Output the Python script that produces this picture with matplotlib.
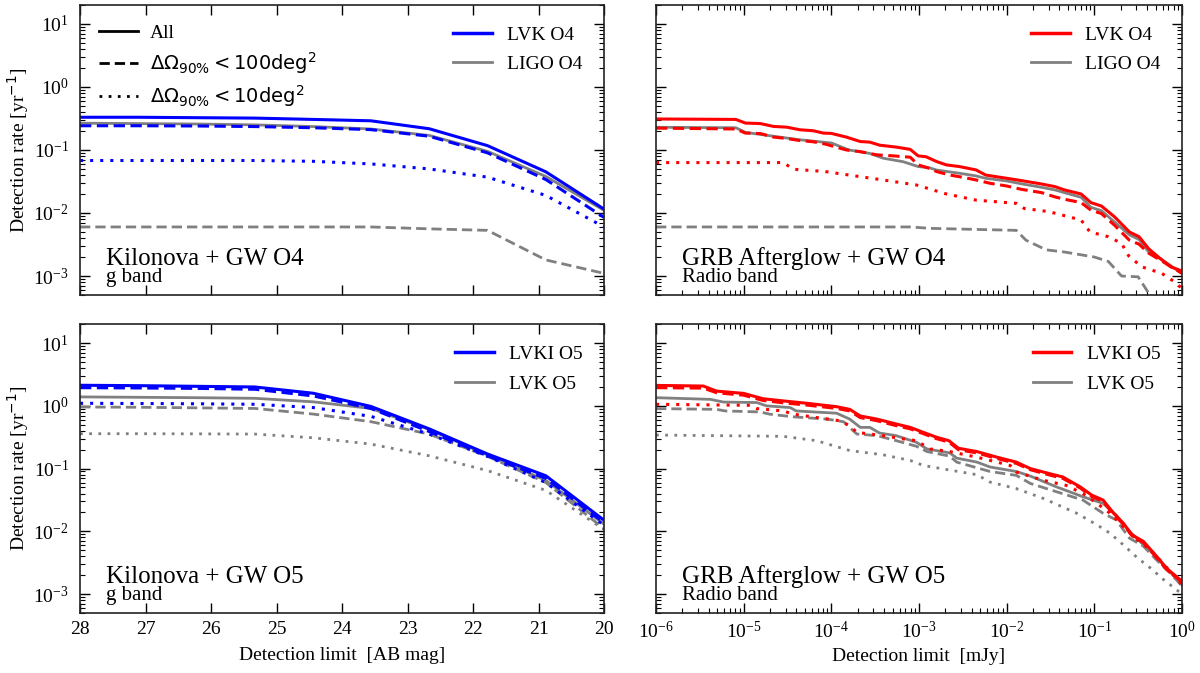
import numpy as np
import matplotlib
matplotlib.use("Agg")
import matplotlib.pyplot as plt
from matplotlib.lines import Line2D
from matplotlib.ticker import LogLocator, NullFormatter, FixedLocator

plt.rcParams["font.family"] = ["Liberation Serif", "DejaVu Serif"]
plt.rcParams["mathtext.fontset"] = "dejavusans"

# ---- kilonova panels: detection limit in AB mag ----
mag = [28.0, 27.11, 26.22, 25.33, 24.44, 23.56, 22.67, 21.78, 20.89, 20.0]

kn_o4_lvk_all = [0.33, 0.33, 0.325, 0.32, 0.305, 0.29, 0.217, 0.117, 0.045, 0.0115]
kn_o4_lvk_100 = [0.242, 0.242, 0.24, 0.235, 0.225, 0.21, 0.165, 0.09, 0.034, 0.0085]
kn_o4_lvk_10 = [0.068, 0.068, 0.068, 0.068, 0.066, 0.06, 0.05, 0.037, 0.019, 0.006]
kn_o4_ligo_all = [0.266, 0.262, 0.258, 0.25, 0.235, 0.215, 0.17, 0.095, 0.038, 0.011]
kn_o4_ligo_100 = [0.006, 0.006, 0.006, 0.006, 0.006, 0.006, 0.0056, 0.0053, 0.0018, 0.0011]

kn_o5_lvki_all = [2.13, 2.1, 2.05, 2.0, 1.59, 0.98, 0.43, 0.171, 0.077, 0.015]
kn_o5_lvki_100 = [1.95, 1.93, 1.9, 1.84, 1.44, 0.91, 0.39, 0.16, 0.07, 0.0137]
kn_o5_lvki_10 = [1.10, 1.09, 1.08, 1.06, 0.94, 0.68, 0.355, 0.157, 0.06, 0.0125]
kn_o5_lvk_all = [1.39, 1.37, 1.35, 1.32, 1.16, 0.91, 0.42, 0.165, 0.065, 0.013]
kn_o5_lvk_100 = [0.96, 0.95, 0.93, 0.91, 0.74, 0.56, 0.355, 0.157, 0.06, 0.011]
kn_o5_lvk_10 = [0.36, 0.36, 0.358, 0.355, 0.31, 0.246, 0.16, 0.093, 0.045, 0.0107]

# ---- GRB afterglow panels: detection limit in mJy (log10 values) ----
ag_o4_lvk_all_lx = [-6, -5.09, -4.98, -4.81, -4.66, -4.51, -4.36, -4.21, -4.09, -4.0,
                    -3.83, -3.67, -3.56, -3.45, -3.26, -3.10, -3.01, -2.92, -2.80, -2.69,
                    -2.54, -2.35, -2.24, -2.0, -1.83, -1.60, -1.45, -1.34, -1.15, -1.04,
                    -0.92, -0.77, -0.60, -0.49, -0.38, -0.25, -0.13, 0.0]
ag_o4_lvk_all = [0.31, 0.305, 0.267, 0.262, 0.236, 0.23, 0.209, 0.202, 0.185, 0.183,
                 0.160, 0.136, 0.133, 0.119, 0.111, 0.102, 0.0805, 0.078, 0.0655, 0.058,
                 0.0545, 0.0482, 0.040, 0.0355, 0.0326, 0.0288, 0.0262, 0.0232, 0.020, 0.0146,
                 0.0129, 0.0087, 0.005, 0.0042, 0.0027, 0.0019, 0.0014, 0.0012]

ag_o4_lvk_100_lx = [-6, -5.09, -4.98, -4.81, -4.66, -4.51, -4.36, -4.21, -4.07, -3.83,
                    -3.67, -3.48, -3.29, -3.10, -3.01, -2.88, -2.80, -2.65, -2.50, -2.35,
                    -2.19, -2.0, -1.83, -1.60, -1.45, -1.34, -1.15, -1.04, -0.92, -0.77,
                    -0.60, -0.49, -0.38, -0.25, 0.0]
ag_o4_lvk_100 = [0.222, 0.215, 0.185, 0.182, 0.160, 0.152, 0.141, 0.135, 0.124, 0.100,
                 0.094, 0.0835, 0.0805, 0.0767, 0.058, 0.051, 0.0454, 0.040, 0.0368, 0.0334,
                 0.0296, 0.0268, 0.0237, 0.021, 0.018, 0.0165, 0.0146, 0.0111, 0.0098, 0.0064,
                 0.0037, 0.0032, 0.0023, 0.0018, 0.0011]

ag_o4_lvk_10_lx = [-6, -4.55, -4.43, -4.07, -3.80, -3.41, -3.03, -2.84, -2.72, -2.35,
                   -1.89, -1.80, -1.52, -1.29, -1.15, -1.05, -0.84, -0.69, -0.61, -0.46,
                   -0.23, -0.08, 0.0]
ag_o4_lvk_10 = [0.063, 0.063, 0.0494, 0.0454, 0.040, 0.0334, 0.0278, 0.0232, 0.0205, 0.016,
                0.0142, 0.0118, 0.0105, 0.0087, 0.0077, 0.005, 0.0042, 0.0033, 0.0021, 0.0014,
                0.0011, 0.0008, 0.00063]

ag_o4_ligo_all_lx = [-6, -5.09, -4.98, -4.66, -4.36, -4.0, -3.80, -3.56, -3.41, -3.18,
                     -3.01, -2.88, -2.80, -2.54, -2.35, -2.24, -2.0, -1.83, -1.60, -1.45,
                     -1.34, -1.15, -1.04, -0.92, -0.77, -0.60, -0.49, -0.38, -0.25, 0.0]
ag_o4_ligo_all = [0.229, 0.225, 0.19, 0.165, 0.145, 0.129, 0.10, 0.088, 0.074, 0.065,
                  0.0545, 0.052, 0.048, 0.0427, 0.0387, 0.0355, 0.0322, 0.029, 0.0255, 0.0232,
                  0.021, 0.0177, 0.0123, 0.0109, 0.0072, 0.0045, 0.0038, 0.0024, 0.0019, 0.0011]

ag_o4_ligo_100_lx = [-6, -3.10, -2.87, -1.89, -1.78, -1.55, -1.34, -1.0, -0.84, -0.69,
                     -0.50, -0.39, -0.30]
ag_o4_ligo_100 = [0.006, 0.006, 0.0057, 0.0053, 0.0037, 0.0026, 0.0024, 0.002, 0.0017, 0.001,
                  0.00097, 0.00056, 0.0003]

ag_o5_lvki_lx = [-6, -5.46, -5.31, -5.0, -4.78, -4.55, -4.28, -3.94, -3.79, -3.67,
                 -3.48, -3.25, -3.1, -2.95, -2.8, -2.66, -2.55, -2.34, -2.11, -1.89,
                 -1.73, -1.51, -1.36, -1.16, -1.03, -0.9, -0.78, -0.67, -0.57, -0.44,
                 -0.31, -0.18, 0.0]
ag_o5_lvki_all = [2.12, 2.07, 1.72, 1.58, 1.30, 1.20, 1.10, 0.97, 0.88, 0.69,
                  0.615, 0.51, 0.454, 0.378, 0.316, 0.279, 0.211, 0.187, 0.152, 0.127,
                  0.10, 0.083, 0.0736, 0.051, 0.0378, 0.0315, 0.0194, 0.0135, 0.0088, 0.0069,
                  0.0043, 0.0026, 0.0016]
ag_o5_lvki_100 = [1.95, 1.92, 1.62, 1.48, 1.22, 1.12, 1.03, 0.91, 0.83, 0.65,
                  0.58, 0.48, 0.43, 0.36, 0.30, 0.265, 0.20, 0.178, 0.145, 0.121,
                  0.096, 0.079, 0.070, 0.049, 0.036, 0.030, 0.0186, 0.013, 0.0085, 0.0066,
                  0.0041, 0.0025, 0.00155]

ag_o5_lvki_10_lx = [-6, -4.92, -4.85, -4.55, -4.43, -4.17, -3.90, -3.79, -3.71, -3.41,
                    -3.18, -3.03, -2.875, -2.65, -2.34, -2.11, -1.96, -1.89, -1.58, -1.32,
                    -1.13, -0.97, -0.82, -0.67, -0.51, -0.36, -0.21, 0.0]
ag_o5_lvki_10 = [1.06, 1.02, 0.906, 0.83, 0.736, 0.653, 0.578, 0.482, 0.378, 0.335,
                 0.297, 0.279, 0.206, 0.187, 0.152, 0.127, 0.112, 0.088, 0.065, 0.054,
                 0.040, 0.0279, 0.0194, 0.0119, 0.0073, 0.0051, 0.003, 0.0014]

ag_o5_lvk_all_lx = [-6, -5.38, -5.23, -4.85, -4.74, -4.47, -4.40, -3.94, -3.79, -3.67,
                    -3.56, -3.45, -3.26, -3.03, -2.91, -2.65, -2.57, -2.34, -2.19, -1.89,
                    -1.73, -1.43, -1.13, -0.90, -0.75, -0.60, -0.44, -0.29, -0.14, 0.0]
ag_o5_lvk_all = [1.35, 1.27, 1.15, 1.13, 1.0, 0.94, 0.83, 0.764, 0.615, 0.454,
                 0.454, 0.369, 0.335, 0.263, 0.206, 0.178, 0.147, 0.127, 0.106, 0.090,
                 0.076, 0.051, 0.0356, 0.0279, 0.0182, 0.010, 0.0061, 0.004, 0.0023, 0.0014]

ag_o5_lvk_100_lx = [-6, -5.31, -5.21, -4.81, -4.70, -4.43, -4.05, -3.86, -3.71, -3.48,
                    -3.26, -3.03, -2.91, -2.65, -2.57, -2.19, -1.89, -1.73, -1.43, -1.13,
                    -0.90, -0.75, -0.60, -0.44, -0.29, -0.14, 0.0]
ag_o5_lvk_100 = [0.905, 0.88, 0.83, 0.80, 0.736, 0.668, 0.615, 0.558, 0.356, 0.335,
                 0.279, 0.227, 0.187, 0.158, 0.127, 0.090, 0.078, 0.058, 0.0427, 0.0315,
                 0.0194, 0.0152, 0.0078, 0.0058, 0.0035, 0.0022, 0.00135]

ag_o5_lvk_10_lx = [-6, -4.55, -4.17, -3.79, -3.41, -3.10, -2.95, -2.34, -2.19, -1.89,
                   -1.58, -1.20, -0.97, -0.82, -0.67, -0.51, -0.36, -0.21, 0.0]
ag_o5_lvk_10 = [0.343, 0.327, 0.279, 0.194, 0.166, 0.135, 0.112, 0.080, 0.061, 0.048,
                0.0334, 0.0194, 0.0127, 0.0093, 0.0061, 0.0038, 0.0026, 0.0017, 0.001]

BLUE = "#0000ff"
RED = "#ff0000"
GREY = "#808080"
DOT = (0, (1, 2.3))
DASH = (0, (3.7, 1.8))

fig = plt.figure(figsize=(12, 6.73), dpi=100)
ax_tl = fig.add_axes([0.0667, 0.5617, 0.4367, 0.431])
ax_tr = fig.add_axes([0.5467, 0.5617, 0.4383, 0.431])
ax_bl = fig.add_axes([0.0667, 0.0892, 0.4367, 0.429])
ax_br = fig.add_axes([0.5467, 0.0892, 0.4383, 0.429])


def lx(vals):
    return 10.0 ** np.array(vals)


# grey first, colours on top
ax_tl.plot(mag, kn_o4_ligo_all, color=GREY, lw=2.0, ls="-")
ax_tl.plot(mag, kn_o4_ligo_100, color=GREY, lw=2.0, ls=DASH)
ax_tl.plot(mag, kn_o4_lvk_all, color=BLUE, lw=2.2, ls="-")
ax_tl.plot(mag, kn_o4_lvk_100, color=BLUE, lw=2.2, ls=DASH)
ax_tl.plot(mag, kn_o4_lvk_10, color=BLUE, lw=2.2, ls=DOT)

ax_bl.plot(mag, kn_o5_lvk_all, color=GREY, lw=2.0, ls="-")
ax_bl.plot(mag, kn_o5_lvk_100, color=GREY, lw=2.0, ls=DASH)
ax_bl.plot(mag, kn_o5_lvk_10, color=GREY, lw=2.0, ls=DOT)
ax_bl.plot(mag, kn_o5_lvki_all, color=BLUE, lw=2.2, ls="-")
ax_bl.plot(mag, kn_o5_lvki_100, color=BLUE, lw=2.2, ls=DASH)
ax_bl.plot(mag, kn_o5_lvki_10, color=BLUE, lw=2.2, ls=DOT)

ax_tr.plot(lx(ag_o4_ligo_all_lx), ag_o4_ligo_all, color=GREY, lw=2.0, ls="-")
ax_tr.plot(lx(ag_o4_ligo_100_lx), ag_o4_ligo_100, color=GREY, lw=2.0, ls=DASH)
ax_tr.plot(lx(ag_o4_lvk_all_lx), ag_o4_lvk_all, color=RED, lw=2.2, ls="-")
ax_tr.plot(lx(ag_o4_lvk_100_lx), ag_o4_lvk_100, color=RED, lw=2.2, ls=DASH)
ax_tr.plot(lx(ag_o4_lvk_10_lx), ag_o4_lvk_10, color=RED, lw=2.2, ls=DOT)

ax_br.plot(lx(ag_o5_lvk_all_lx), ag_o5_lvk_all, color=GREY, lw=2.0, ls="-")
ax_br.plot(lx(ag_o5_lvk_100_lx), ag_o5_lvk_100, color=GREY, lw=2.0, ls=DASH)
ax_br.plot(lx(ag_o5_lvk_10_lx), ag_o5_lvk_10, color=GREY, lw=2.0, ls=DOT)
ax_br.plot(lx(ag_o5_lvki_lx), ag_o5_lvki_all, color=RED, lw=2.2, ls="-")
ax_br.plot(lx(ag_o5_lvki_lx), ag_o5_lvki_100, color=RED, lw=2.2, ls=DASH)
ax_br.plot(lx(ag_o5_lvki_10_lx), ag_o5_lvki_10, color=RED, lw=2.2, ls=DOT)

for ax in (ax_tl, ax_tr, ax_bl, ax_br):
    ax.set_yscale("log")
    ax.set_ylim(5e-4, 20)
    ax.yaxis.set_major_locator(LogLocator(base=10, numticks=20))
    ax.yaxis.set_minor_locator(LogLocator(base=10, subs=np.arange(2, 10), numticks=20))
    ax.yaxis.set_minor_formatter(NullFormatter())
    ax.tick_params(which="both", direction="in", top=True, right=True, labelsize=14)
    ax.tick_params(which="major", length=7, width=1.0)
    ax.tick_params(which="minor", length=3.5, width=0.8)
    ax.tick_params(axis="x", which="major", pad=6)
    ax.tick_params(axis="y", which="major", pad=8)
    for sp in ax.spines.values():
        sp.set_linewidth(1.2)
        sp.set_color("#222222")

for ax in (ax_tl, ax_bl):
    ax.set_xlim(28, 20)
    ax.xaxis.set_major_locator(FixedLocator([28, 27, 26, 25, 24, 23, 22, 21, 20]))
    ax.set_ylabel("Detection rate [yr$^{-1}$]", fontsize=14, labelpad=2)

for ax in (ax_tr, ax_br):
    ax.set_xscale("log")
    ax.set_xlim(1e-6, 1)
    ax.xaxis.set_major_locator(LogLocator(base=10, numticks=20))
    ax.xaxis.set_minor_locator(LogLocator(base=10, subs=np.arange(2, 10), numticks=20))
    ax.xaxis.set_minor_formatter(NullFormatter())
    ax.tick_params(axis="y", labelleft=False)

ax_tl.tick_params(axis="x", labelbottom=False)
ax_tr.tick_params(axis="x", labelbottom=False)
ax_bl.set_xlabel("Detection limit  [AB mag]", fontsize=14, labelpad=6)
ax_br.set_xlabel("Detection limit  [mJy]", fontsize=14, labelpad=4)

# panel captions
captions = [
    (ax_tl, "Kilonova + GW O4", "g band"),
    (ax_bl, "Kilonova + GW O5", "g band"),
    (ax_tr, "GRB Afterglow + GW O4", "Radio band"),
    (ax_br, "GRB Afterglow + GW O5", "Radio band"),
]
for ax, title, band in captions:
    ax.text(0.05, 0.105, title, transform=ax.transAxes, fontsize=18, va="baseline")
    ax.text(0.05, 0.045, band, transform=ax.transAxes, fontsize=15, va="baseline")

# legends
style_handles = [
    Line2D([], [], color="black", lw=2, ls="-"),
    Line2D([], [], color="black", lw=2, ls=DASH),
    Line2D([], [], color="black", lw=2, ls=DOT),
]
style_labels = ["All", r"$\Delta\Omega_{90\%} < 100\mathrm{deg}^2$",
                r"$\Delta\Omega_{90\%} < 10\mathrm{deg}^2$"]
leg_style = ax_tl.legend(style_handles, style_labels, loc="upper left", frameon=False,
                         fontsize=14, handlelength=2.0, borderaxespad=0.6, labelspacing=0.4,
                         handletextpad=0.6)
ax_tl.add_artist(leg_style)

det_legends = [
    (ax_tl, BLUE, "LVK O4", "LIGO O4"),
    (ax_tr, RED, "LVK O4", "LIGO O4"),
    (ax_bl, BLUE, "LVKI O5", "LVK O5"),
    (ax_br, RED, "LVKI O5", "LVK O5"),
]
for ax, col, lab1, lab2 in det_legends:
    handles = [Line2D([], [], color=col, lw=2.5), Line2D([], [], color=GREY, lw=2.0)]
    ax.legend(handles, [lab1, lab2], loc="upper right", frameon=False, fontsize=14,
              handlelength=2.0, borderaxespad=0.7, labelspacing=0.6)

fig.savefig("out.png", dpi=100)
